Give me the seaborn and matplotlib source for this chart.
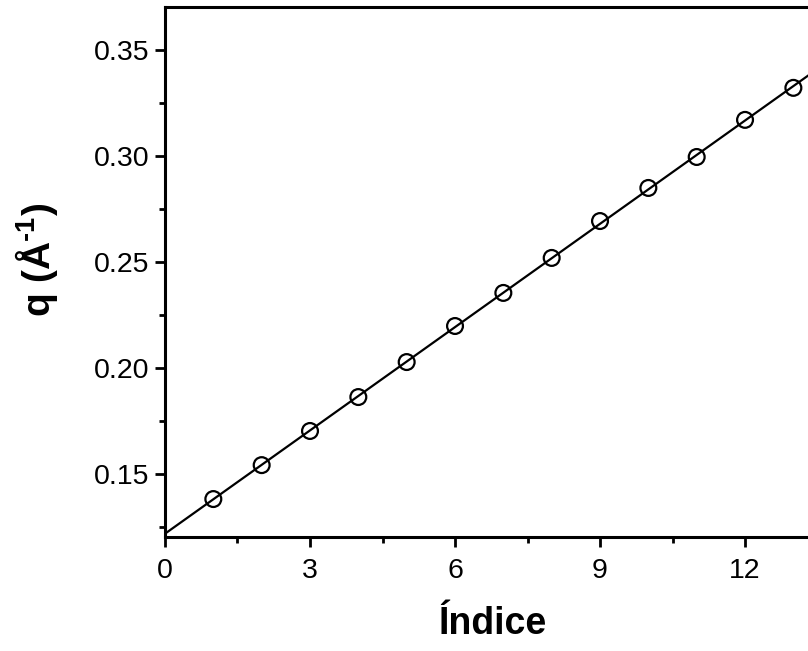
import numpy as np
import pandas as pd
import matplotlib
matplotlib.use("Agg")
import matplotlib.pyplot as plt
from matplotlib.ticker import MultipleLocator, FormatStrFormatter
import seaborn as sns

# Peak index and scattering vector q (1/Å)
indice = [1, 2, 3, 4, 5, 6, 7, 8, 9, 10, 11, 12, 13]
q_values = [0.1382, 0.1542, 0.1703, 0.1863, 0.2028, 0.2198, 0.2354,
            0.2519, 0.2693, 0.2849, 0.2995, 0.3170, 0.3321]

sns.set_style("ticks")
plt.rcParams["font.family"] = ["Liberation Sans", "DejaVu Sans"]
plt.rcParams["mathtext.fontset"] = "custom"
plt.rcParams["mathtext.rm"] = "Liberation Sans:bold"
plt.rcParams["mathtext.bf"] = "Liberation Sans:bold"
plt.rcParams["text.color"] = "black"
plt.rcParams["axes.labelcolor"] = "black"

df = pd.DataFrame({"indice": indice, "q": q_values})

# Linear fit through the points
slope, intercept = np.polyfit(df["indice"], df["q"], 1)
fit_x = np.array([0.0, 14.0])
fit = pd.DataFrame({"indice": fit_x, "q": intercept + slope * fit_x})

fig = plt.figure(figsize=(8.08, 6.51), dpi=100)
ax = fig.add_axes([0.2042, 0.1751, 0.8094, 0.8134])

sns.lineplot(data=fit, x="indice", y="q", ax=ax, color="black", linewidth=1.6)
sns.scatterplot(data=df, x="indice", y="q", ax=ax, marker="o", s=130,
                facecolor="none", edgecolor="black", linewidth=1.6, zorder=3)

ax.set_xlim(0, 13.53)
ax.set_ylim(0.1203, 0.3700)
ax.xaxis.set_major_locator(MultipleLocator(3))
ax.xaxis.set_minor_locator(MultipleLocator(1.5))
ax.yaxis.set_major_locator(MultipleLocator(0.05))
ax.yaxis.set_minor_locator(MultipleLocator(0.025))
ax.yaxis.set_major_formatter(FormatStrFormatter("%.2f"))

for s in ax.spines.values():
    s.set_linewidth(2.2)
    s.set_color("black")
ax.tick_params(which="major", direction="out", length=7.5, width=2,
               labelsize=20.5, colors="black")
ax.tick_params(which="minor", direction="out", length=4, width=2, colors="black")
ax.tick_params(axis="x", which="major", pad=7.8)
ax.tick_params(axis="y", which="major", pad=3.5)

ax.set_xlabel("Índice", fontsize=27, fontweight="bold", labelpad=16)
ax.set_ylabel(r"q (Å$^{\text{-1}}$)", fontsize=28, fontweight="bold")
ax.yaxis.set_label_coords(-0.1606, 0.523)

fig.savefig("out.png", dpi=100)
